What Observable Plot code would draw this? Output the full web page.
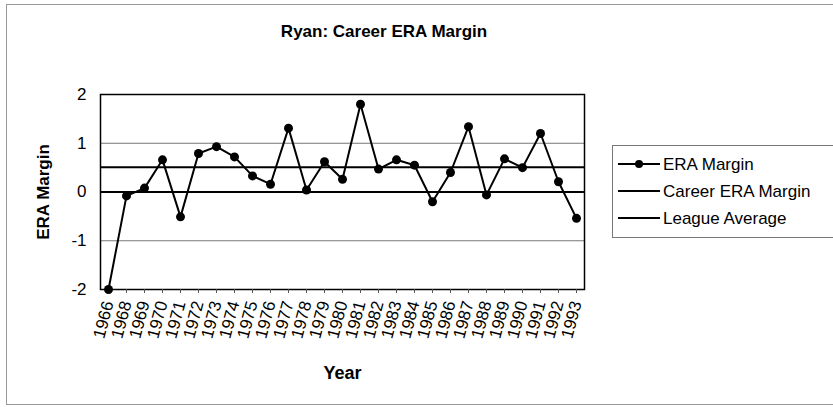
<!DOCTYPE html>
<html><head><meta charset="utf-8">
<script src="https://cdn.jsdelivr.net/npm/d3@7"></script>
<script src="https://cdn.jsdelivr.net/npm/@observablehq/plot@0.6"></script>
<style>
body{margin:0;background:#fff;font-family:"Liberation Sans",Arial,sans-serif;color:#000;}
#wrap{position:relative;width:833px;height:407px;overflow:hidden;}
#border{position:absolute;left:6px;top:4px;width:840px;height:401px;border:1px solid #999;box-sizing:border-box;}
#title{position:absolute;left:0;width:768px;top:22px;text-align:center;font-weight:bold;font-size:17px;}
#legend{position:absolute;left:612px;top:145px;width:230px;height:93px;border:1px solid #777;box-sizing:border-box;}
.row{position:absolute;left:0;height:27px;line-height:27px;font-size:17px;white-space:nowrap;}
.row svg{position:absolute;left:5px;top:8px;}
.row span{position:absolute;left:50px;}
#chart{position:absolute;left:0;top:0;}
</style></head>
<body>
<div id="wrap">
  <div id="border"></div>
  <div id="chart"></div>
  <div id="title">Ryan: Career ERA Margin</div>
  <div id="legend"></div>
</div>
<script>
const years = ["1966","1968","1969","1970","1971","1972","1973","1974","1975","1976","1977","1978","1979","1980","1981","1982","1983","1984","1985","1986","1987","1988","1989","1990","1991","1992","1993"];
const eraMargin = [-2.0,-0.08,0.08,0.66,-0.51,0.79,0.93,0.72,0.33,0.16,1.31,0.04,0.62,0.26,1.80,0.47,0.66,0.55,-0.20,0.40,1.34,-0.06,0.68,0.50,1.20,0.21,-0.54];
const careerMargin = [0.51];
const leagueAverage = [0];
const yTicks = [-2,-1,0,1,2];
const gridLines = [-1,1];
const seriesNames = ["ERA Margin","Career ERA Margin","League Average"];

const data = years.map((y,i)=>({year:y, value:eraMargin[i]}));

const chart = Plot.plot({
  width:833, height:407,
  marginLeft:100, marginRight:249, marginTop:94, marginBottom:118,
  style:{fontFamily:"'Liberation Sans', Arial, sans-serif", fontSize:"17px", color:"#000", background:"transparent", overflow:"visible"},
  x:{type:"point", domain:years, padding:0},
  y:{domain:[-2,2]},
  marks:[
    Plot.ruleY(gridLines,{stroke:"#777", strokeWidth:1}),
    Plot.ruleY(leagueAverage,{stroke:"#000", strokeWidth:2}),
    Plot.ruleY(careerMargin,{stroke:"#000", strokeWidth:2}),
    Plot.frame({stroke:"#000", strokeWidth:1.5}),
    Plot.axisY(yTicks,{tickSize:0, tickPadding:14, fontSize:17, label:null, tickFormat:d=>String(d)}),
    Plot.axisX({tickSize:4, tickRotate:-75, tickPadding:8, fontSize:17, label:null, stroke:"#555"}),
    Plot.text(["ERA Margin"],{text:d=>d, frameAnchor:"left", rotate:-90, dx:-57, fontWeight:"bold", fontSize:17, textAnchor:"middle", lineAnchor:"middle"}),
    Plot.text(["Year"],{text:d=>d, frameAnchor:"bottom", dy:84, fontWeight:"bold", fontSize:18, textAnchor:"middle", lineAnchor:"middle"}),
    Plot.line(data,{x:"year", y:"value", stroke:"#000", strokeWidth:2}),
    Plot.dot(data,{x:"year", y:"value", r:4.5, fill:"#000", stroke:"none"})
  ]
});
document.getElementById("chart").appendChild(chart);

const legend = document.getElementById("legend");
seriesNames.forEach((name,i)=>{
  const row = document.createElement("div");
  row.className = "row";
  row.style.top = (5 + i*27) + "px";
  const marker = i === 0 ? '<circle cx="21" cy="5" r="4" fill="#000"/>' : '';
  row.innerHTML = '<svg width="42" height="10"><line x1="0" x2="42" y1="5" y2="5" stroke="#000" stroke-width="2"/>' + marker + '</svg><span>' + name + '</span>';
  legend.appendChild(row);
});
</script>
</body></html>
